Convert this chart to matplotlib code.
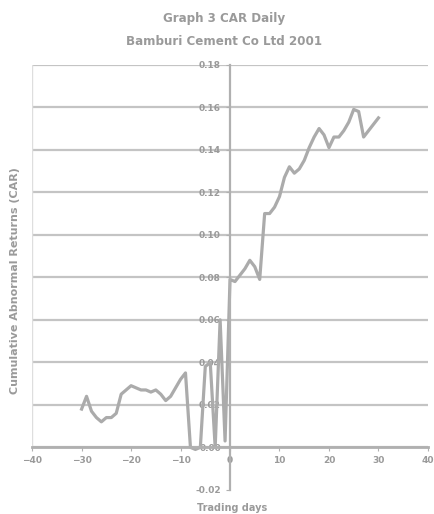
import matplotlib
matplotlib.use("Agg")
import matplotlib.pyplot as plt

days = list(range(-30, 31))
car = [0.018, 0.024, 0.017, 0.014, 0.012, 0.014, 0.014, 0.016, 0.025, 0.027,
       0.029, 0.028, 0.027, 0.027, 0.026, 0.027, 0.025, 0.022, 0.024, 0.028,
       0.032, 0.035, 0.000, -0.001, 0.000, 0.038, 0.040, 0.000, 0.060, 0.003,
       0.079, 0.078, 0.081, 0.084, 0.088, 0.085, 0.079, 0.110, 0.110, 0.113,
       0.118, 0.127, 0.132, 0.129, 0.131, 0.135, 0.141, 0.146, 0.150, 0.147,
       0.141, 0.146, 0.146, 0.149, 0.153, 0.159, 0.158, 0.146, 0.149, 0.152,
       0.155]
x_ticks = [-40, -30, -20, -10, 0, 10, 20, 30, 40]
y_ticks = [-0.02, 0.0, 0.02, 0.04, 0.06, 0.08, 0.10, 0.12, 0.14, 0.16, 0.18]
title = "Graph 3 CAR Daily\nBamburi Cement Co Ltd 2001"
ylabel = "Cumulative Abnormal Returns (CAR)"
xlabel = "Trading days"

txt = "#9a9a9a"
fig = plt.figure(figsize=(4.34, 5.14), dpi=100)
ax = fig.add_axes([0.074, 0.047, 0.912, 0.827])
ax.plot(days, car, color="#ababab", lw=2.3)
ax.set_xlim(-40, 40)
ax.set_ylim(-0.02, 0.18)
ax.set_xticks(x_ticks)
ax.set_yticks(y_ticks)
ax.set_yticklabels([f"{v:.2f}" for v in y_ticks])
for t in y_ticks[1:]:
    ax.axhline(t, color="#c4c4c4", lw=1.6, zorder=0)
ax.spines["left"].set_position(("data", 0))
ax.spines["bottom"].set_position(("data", 0))
ax.spines["right"].set_visible(False)
ax.spines["top"].set_visible(False)
ax.spines["left"].set_color("#b0b0b0")
ax.spines["bottom"].set_color("#b0b0b0")
ax.spines["left"].set_linewidth(1.6)
ax.spines["bottom"].set_linewidth(2)
ax.tick_params(axis="both", colors="#b0b0b0", labelcolor=txt, labelsize=6.5, length=3)
for lab in ax.get_xticklabels() + ax.get_yticklabels():
    lab.set_fontweight("bold")
ax.axvline(-40, color="#dedede", lw=1, ymin=0.1, ymax=1)
fig.text(0.516, 0.942, title, ha="center", va="center", fontsize=8.6,
         color=txt, fontweight="bold", linespacing=2.0)
fig.text(0.035, 0.455, ylabel, rotation=90, ha="center", va="center",
         fontsize=8, color=txt, fontweight="bold")
fig.text(0.535, 0.012, xlabel, ha="center", va="center", fontsize=7,
         color=txt, fontweight="bold")
fig.savefig("out.png", dpi=100)
